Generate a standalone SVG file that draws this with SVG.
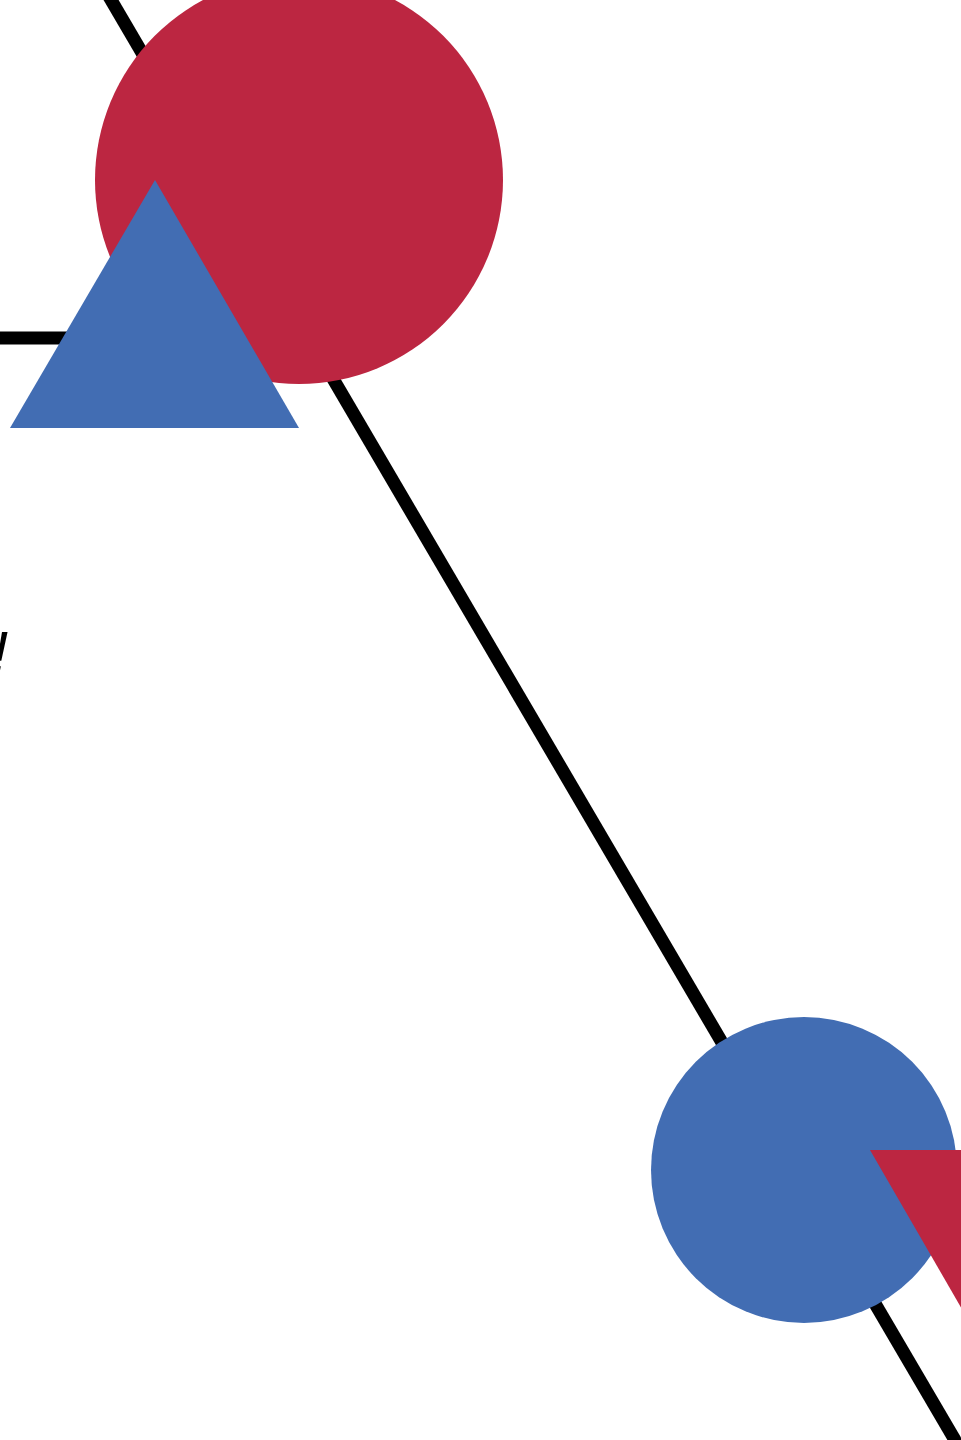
<svg xmlns="http://www.w3.org/2000/svg" width="961" height="1440" viewBox="0 0 961 1440">
<style>
.ln{stroke:#000;stroke-width:13;fill:none}
.red{fill:#BC2641}
.blue{fill:#426DB3}
.t{font-family:"Liberation Sans",Arial,sans-serif;font-style:italic;font-size:58px;fill:#000}
</style>
<rect width="961" height="1440" fill="#fff"/>
<g id="connectors">
<line class="ln" x1="97" y1="-24" x2="969" y2="1464"/>
<line class="ln" x1="-10" y1="338" x2="120" y2="338"/>
</g>
<g id="node-red-circle"><circle class="red" cx="299" cy="180" r="204"/></g>
<g id="node-blue-triangle"><polygon class="blue" points="155,180 299,428 10,428"/></g>
<g id="node-blue-circle"><circle class="blue" cx="804" cy="1170" r="153"/></g>
<g id="node-red-triangle"><polygon class="red" points="870,1150 1159,1150 1014.5,1400"/></g>
<g id="label"><text class="t" x="8" y="672" text-anchor="end">!</text></g>
</svg>
